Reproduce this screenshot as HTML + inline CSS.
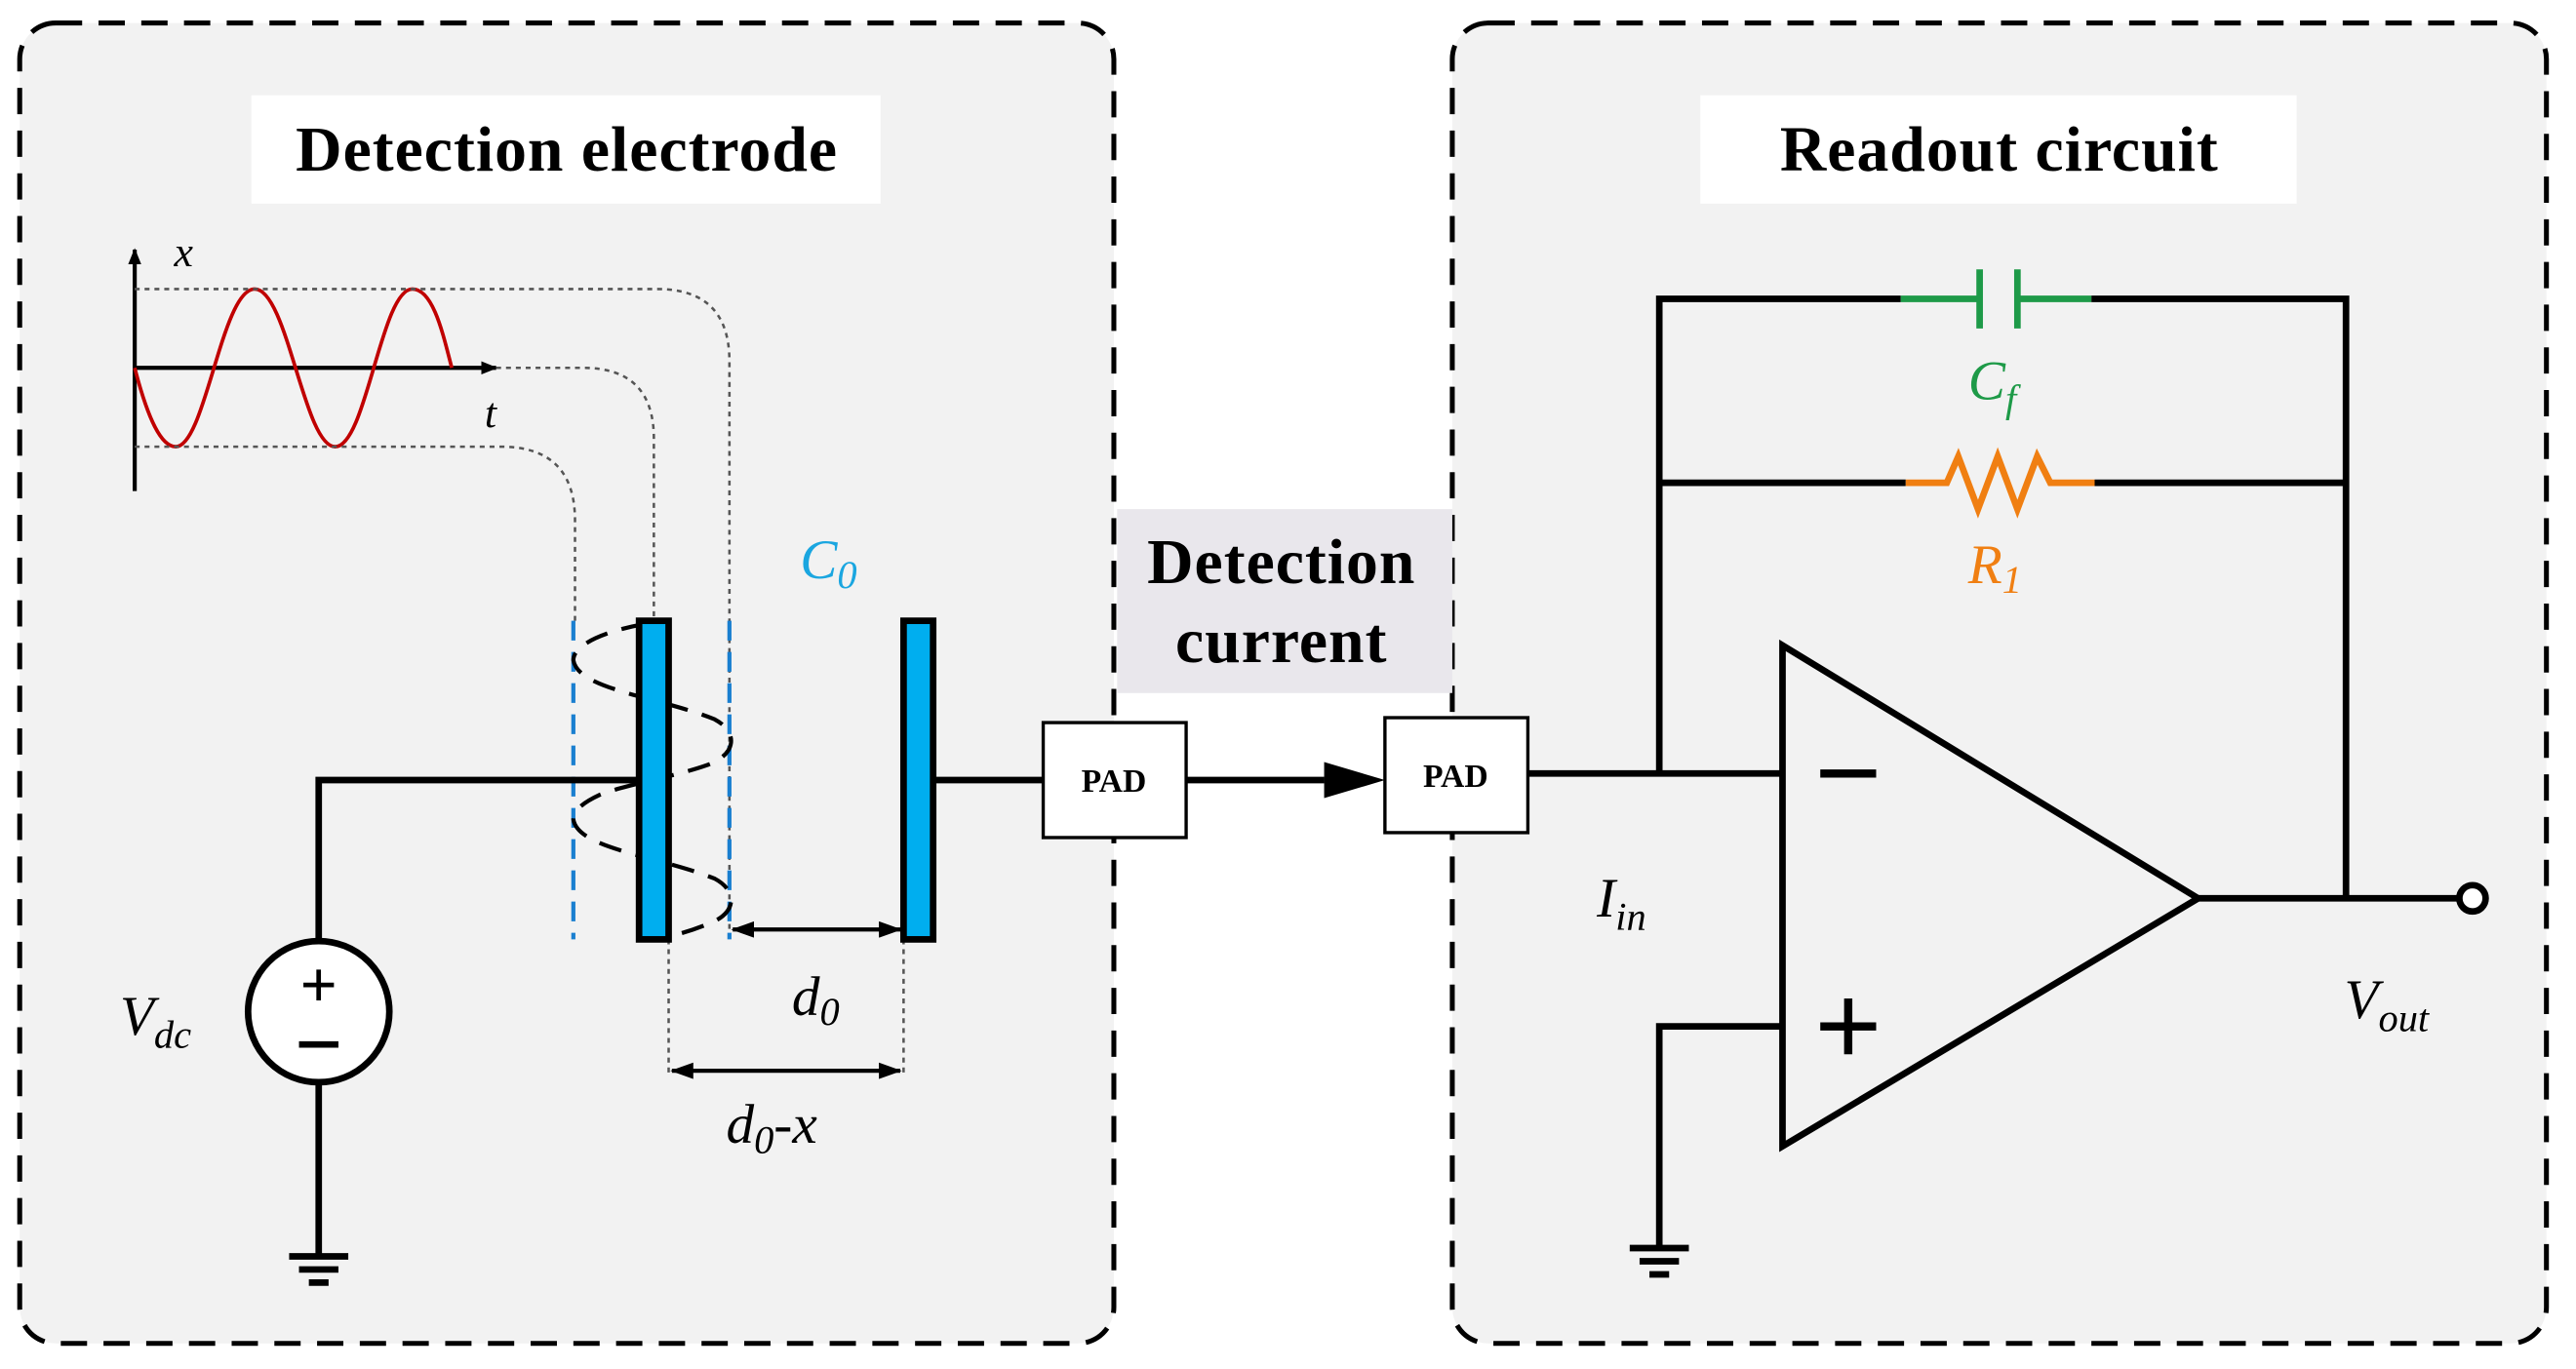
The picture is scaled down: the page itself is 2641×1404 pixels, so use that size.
<!DOCTYPE html>
<html><head><meta charset="utf-8"><style>html,body{margin:0;padding:0;background:#fff}svg{display:block}</style></head>
<body>
<svg width="2641" height="1404" viewBox="0 0 1568 833.6" preserveAspectRatio="none" xmlns="http://www.w3.org/2000/svg" font-family="Liberation Serif, serif">
<defs>
<marker id="ah" markerWidth="10" markerHeight="10" refX="9" refY="5" orient="auto" markerUnits="userSpaceOnUse"><path d="M0,1 L10,5 L0,9 z" fill="#000"/></marker>
<marker id="ahs" markerWidth="14" markerHeight="10" refX="13" refY="5" orient="auto-start-reverse" markerUnits="userSpaceOnUse"><path d="M0,0 L14,5 L0,10 z" fill="#000"/></marker>
</defs>
<rect x="0" y="0" width="1568" height="834" fill="#fff"/>
<rect x="12" y="14" width="666" height="804" rx="22" fill="#f2f2f2" stroke="#000" stroke-width="3" stroke-dasharray="16,10"/>
<rect x="884" y="14" width="666" height="804" rx="22" fill="#f2f2f2" stroke="#000" stroke-width="3" stroke-dasharray="16,10"/>
<rect x="153" y="58" width="383" height="66" fill="#fff"/>
<text x="345" y="104" font-size="39" font-weight="bold" text-anchor="middle" letter-spacing="0.6">Detection electrode</text>
<rect x="1035" y="58" width="363" height="66" fill="#fff"/>
<text x="1217" y="104" font-size="39" font-weight="bold" text-anchor="middle" letter-spacing="0.6">Readout circuit</text>
<rect x="680" y="310" width="204" height="112" fill="#e9e7ec"/>
<text x="780" y="355" font-size="39" font-weight="bold" text-anchor="middle" letter-spacing="0.6">Detection</text>
<text x="780" y="403" font-size="39" font-weight="bold" text-anchor="middle" letter-spacing="0.6">current</text>

<line x1="82" y1="299" x2="82" y2="152" stroke="#000" stroke-width="2.5" marker-end="url(#ah)"/>
<line x1="82" y1="224" x2="302" y2="224" stroke="#000" stroke-width="2.5" marker-end="url(#ah)"/>
<path d="M82,224 C90,255 98,272 107,272 C125,272 135,176 155,176 C175,176 185,272 204,272 C223,272 232,176 251,176 C264,176 270,205 275,224" fill="none" stroke="#c00000" stroke-width="2.2"/>
<text x="106" y="162" font-size="26" font-style="italic">x</text>
<text x="295" y="260" font-size="26" font-style="italic">t</text>
<g fill="none" stroke="#555" stroke-width="1.5" stroke-dasharray="3,3">
<path d="M82,176 H400 Q444,176 444,220 V572"/>
<path d="M302,224 H355 Q398,224 398,267 V378"/>
<path d="M82,272 H305 Q350,272 350,317 V378"/>
<path d="M407,572 V655 M550,572 V655"/>
</g>
<g stroke="#1a7fd0" stroke-width="2.5" stroke-dasharray="12,7"><line x1="349" y1="378" x2="349" y2="572"/><line x1="444" y1="378" x2="444" y2="572"/></g>
<text x="487" y="352" font-size="34" font-style="italic" fill="#1aa6e0">C<tspan font-size="24" dy="6">0</tspan></text>
<g stroke="#000" stroke-width="4" fill="none">
<path d="M389,475 H194 V573"/>
<path d="M194,659 V765"/>
<path d="M176,765 H212 M182,773 H206 M188,781 H200"/>
<path d="M568,475 H635"/>
<path d="M930,471 H1085"/>
<path d="M1010,471 V182 H1157 M1273,182 H1428 V547"/>
<path d="M1010,294 H1160 M1275,294 H1428"/>
<path d="M1338,547 H1497"/>
<path d="M1085,625 H1010 V760 M992,760 H1028 M998,768 H1022 M1004,776 H1016"/>
</g>
<circle cx="194" cy="616" r="43" fill="#fff" stroke="#000" stroke-width="4"/>
<text x="194" y="613" font-size="40" font-weight="bold" text-anchor="middle">+</text>
<line x1="182" y1="636" x2="206" y2="636" stroke="#000" stroke-width="4"/>
<text x="73" y="630" font-size="34" font-style="italic">V<tspan font-size="24" dy="8">dc</tspan></text>
<path d="M392,380 C370,384 349,392 349,402 C352,420 400,424 435,438 C450,446 448,460 430,466 C410,473 380,478 365,484 C352,490 349,495 349,499 C352,517 400,521 435,535 C450,543 448,557 430,563 C420,567 410,570 398,572" fill="none" stroke="#000" stroke-width="2.5" stroke-dasharray="14,9"/>
<rect x="389" y="378" width="18" height="194" fill="#00aeef" stroke="#000" stroke-width="4"/>
<rect x="550" y="378" width="18" height="194" fill="#00aeef" stroke="#000" stroke-width="4"/>
<line x1="446" y1="566" x2="548" y2="566" stroke="#000" stroke-width="2.5" marker-start="url(#ahs)" marker-end="url(#ahs)"/>
<line x1="409" y1="652" x2="548" y2="652" stroke="#000" stroke-width="2.5" marker-start="url(#ahs)" marker-end="url(#ahs)"/>
<text x="482" y="618" font-size="34" font-style="italic">d<tspan font-size="24" dy="6">0</tspan></text>
<text x="442" y="696" font-size="34" font-style="italic">d<tspan font-size="24" dy="6">0</tspan><tspan dy="-6">-x</tspan></text>
<rect x="635" y="440" width="87" height="70" fill="#fff" stroke="#000" stroke-width="2"/>
<text x="678" y="482" font-size="20" font-weight="bold" text-anchor="middle">PAD</text>
<rect x="843" y="437" width="87" height="70" fill="#fff" stroke="#000" stroke-width="2"/>
<text x="886" y="479" font-size="20" font-weight="bold" text-anchor="middle">PAD</text>
<line x1="722" y1="475" x2="806" y2="475" stroke="#000" stroke-width="4"/>
<path d="M806,464 L843,475 L806,486 z" fill="#000"/>
<path d="M1085,393 L1085,698 L1338,547 z" fill="none" stroke="#000" stroke-width="4"/>
<line x1="1108" y1="471" x2="1142" y2="471" stroke="#000" stroke-width="5"/>
<line x1="1108" y1="625" x2="1142" y2="625" stroke="#000" stroke-width="5"/>
<line x1="1125" y1="608" x2="1125" y2="642" stroke="#000" stroke-width="5"/>
<circle cx="1505" cy="547" r="8" fill="#fff" stroke="#000" stroke-width="4"/>
<g stroke="#1e9a48" stroke-width="4"><path d="M1157,182 H1205 M1228,182 H1273 M1205,164 V200 M1228,164 V200"/></g>
<text x="1198" y="243" font-size="34" font-style="italic" fill="#1e9a48">C<tspan font-size="24" dy="8">f</tspan></text>
<path d="M1160,294 H1185 L1192,278 L1204,310 L1216,278 L1228,310 L1240,278 L1248,294 H1275" fill="none" stroke="#f07f12" stroke-width="4"/>
<text x="1198" y="355" font-size="34" font-style="italic" fill="#f07f12">R<tspan font-size="24" dy="6">1</tspan></text>
<text x="972" y="558" font-size="34" font-style="italic">I<tspan font-size="24" dy="8">in</tspan></text>
<text x="1427" y="620" font-size="34" font-style="italic">V<tspan font-size="24" dy="8">out</tspan></text>
</svg>
</body></html>
